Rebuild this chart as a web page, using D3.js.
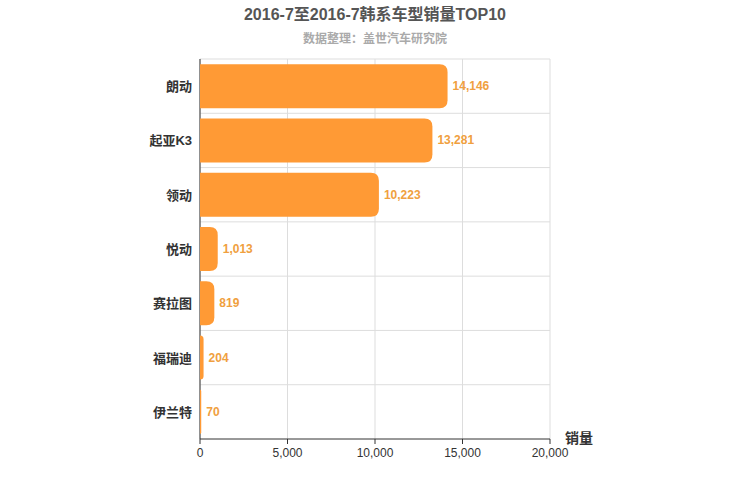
<!DOCTYPE html>
<html><head><meta charset="utf-8">
<script src="https://cdn.jsdelivr.net/npm/d3@7"></script>
<style>body{margin:0;background:#fff;font-family:"Liberation Sans","Noto Sans CJK SC",sans-serif;}</style>
</head><body><div id="chart"></div>
<script>
var categories = ['朗动', '起亚K3', '领动', '悦动', '赛拉图', '福瑞迪', '伊兰特'];
var sales = [14146, 13281, 10223, 1013, 819, 204, 70];
var xTicks = [0, 5000, 10000, 15000, 20000];

var svg = d3.select('#chart').append('svg').attr('width', 750).attr('height', 500);
var pLeft = 200, pRight = 550, pTop = 59, pBottom = 439;

var x = d3.scaleLinear().domain([0, 20000]).range([pLeft, pRight]);
var y = d3.scaleBand().domain(categories).range([pTop, pBottom]).paddingInner(0.19).paddingOuter(0.095);

svg.append('text').attr('x', 375).attr('y', 20).attr('text-anchor', 'middle')
  .attr('font-size', 16).attr('font-weight', 'bold').attr('fill', '#555')
  .text('2016-7至2016-7韩系车型销量TOP10');
svg.append('text').attr('x', 375).attr('y', 43).attr('text-anchor', 'middle')
  .attr('font-size', 12).attr('font-weight', 'bold').attr('fill', '#aaa')
  .text('数据整理：盖世汽车研究院');

// grid
svg.selectAll('.vg').data(xTicks).enter().append('line')
  .attr('x1', d => x(d)).attr('x2', d => x(d)).attr('y1', pTop).attr('y2', pBottom)
  .attr('stroke', '#ddd');
var step = (pBottom - pTop) / categories.length;
svg.selectAll('.hg').data(d3.range(categories.length)).enter().append('line')
  .attr('x1', pLeft).attr('x2', pRight).attr('y1', d => pTop + d * step).attr('y2', d => pTop + d * step)
  .attr('stroke', '#ddd');

svg.append('line').attr('x1', pLeft).attr('x2', pLeft).attr('y1', pTop).attr('y2', pBottom).attr('stroke', '#333');
svg.append('line').attr('x1', pLeft).attr('x2', pRight).attr('y1', pBottom).attr('y2', pBottom).attr('stroke', '#333');

// x axis labels
svg.selectAll('.xt').data(xTicks).enter().append('text')
  .attr('x', d => x(d)).attr('y', pBottom + 18).attr('text-anchor', 'middle')
  .attr('font-size', 12).attr('fill', '#333').text(d => d3.format(',')(d));
svg.selectAll('.xtk').data(xTicks).enter().append('line')
  .attr('x1', d => x(d)).attr('x2', d => x(d)).attr('y1', pBottom).attr('y2', pBottom + 5).attr('stroke', '#333');
svg.append('text').attr('x', 565).attr('y', 443).attr('font-size', 14).attr('font-weight', 'bold')
  .attr('fill', '#333').text('销量');

// y labels
svg.selectAll('.yl').data(categories).enter().append('text')
  .attr('x', pLeft - 8).attr('y', d => y(d) + y.bandwidth() / 2 + 5).attr('text-anchor', 'end')
  .attr('font-size', 13).attr('font-weight', 'bold').attr('fill', '#333').text(d => d);

// bars with rounded right corners
function barPath(x0, x1, y0, h, r) {
  r = Math.min(r, (x1 - x0), h / 2);
  return 'M' + x0 + ',' + y0 + 'H' + (x1 - r) + 'Q' + x1 + ',' + y0 + ' ' + x1 + ',' + (y0 + r) +
    'V' + (y0 + h - r) + 'Q' + x1 + ',' + (y0 + h) + ' ' + (x1 - r) + ',' + (y0 + h) + 'H' + x0 + 'Z';
}
svg.selectAll('.bar').data(sales).enter().append('path')
  .attr('d', (d, i) => barPath(x(0), x(d), y(categories[i]), y.bandwidth(), 8))
  .attr('fill', '#ff9a35');
svg.selectAll('.vl').data(sales).enter().append('text')
  .attr('x', d => x(d) + 5).attr('y', (d, i) => y(categories[i]) + y.bandwidth() / 2 + 4)
  .attr('font-size', 12).attr('font-weight', 'bold').attr('fill', '#f0a040')
  .text(d => d3.format(',')(d));
</script></body></html>
